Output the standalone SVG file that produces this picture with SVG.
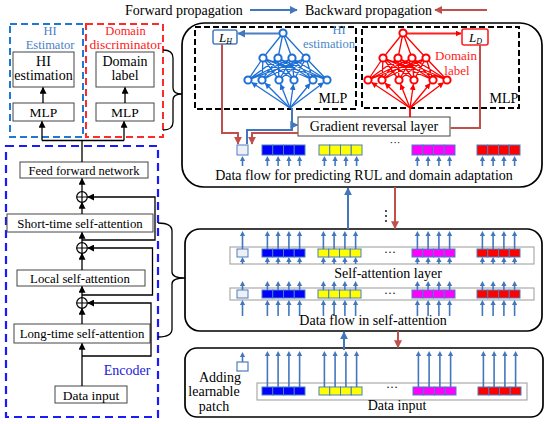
<svg xmlns="http://www.w3.org/2000/svg" xmlns:xlink="http://www.w3.org/1999/xlink" width="550" height="424" viewBox="0 0 550 424">
<defs>
<style>
.t{font-family:"Liberation Serif","Times New Roman",serif;fill:#000}
.bx{fill:#fff;stroke:#444;stroke-width:1}
.ua line{stroke:#4277bd;stroke-width:1.6}
.ua path{fill:#4277bd}
.tk rect{stroke:#4a7ec0;stroke-width:1}
.fb{fill:none;stroke:#4277bd;stroke-width:2}
.fr{fill:none;stroke:#c0504d;stroke-width:2}
.k{fill:none;stroke:#000;stroke-width:1.3}
.nl{fill:none;stroke:currentColor;stroke-width:1.3}
.nd{fill:#fff;stroke:currentColor;stroke-width:2}
.panel{fill:#fff;stroke:#000;stroke-width:1.7}
.dk{fill:none;stroke:#000;stroke-width:2;stroke-dasharray:6 3}
.bar{fill:#fff;stroke:#999;stroke-width:1}
.pt{fill:#eef0f6;stroke:#4a7ec0;stroke-width:1}
</style>
<marker id="ab" viewBox="0 0 10 10" refX="9" refY="5" markerWidth="8" markerHeight="8" markerUnits="userSpaceOnUse" orient="auto"><path d="M0,0 L10,5 L0,10 z" fill="#4277bd"/></marker>
<marker id="ar" viewBox="0 0 10 10" refX="9" refY="5" markerWidth="8" markerHeight="8" markerUnits="userSpaceOnUse" orient="auto"><path d="M0,0 L10,5 L0,10 z" fill="#c0504d"/></marker>
<marker id="ak" viewBox="0 0 10 10" refX="9" refY="5" markerWidth="7" markerHeight="7" markerUnits="userSpaceOnUse" orient="auto"><path d="M0,0 L10,5 L0,10 z" fill="#000"/></marker>
<marker id="anb" viewBox="0 0 10 10" refX="9" refY="5" markerWidth="6" markerHeight="6" markerUnits="userSpaceOnUse" orient="auto"><path d="M0,0 L10,5 L0,10 z" fill="#1f70d4"/></marker>
<marker id="anr" viewBox="0 0 10 10" refX="9" refY="5" markerWidth="6" markerHeight="6" markerUnits="userSpaceOnUse" orient="auto"><path d="M0,0 L10,5 L0,10 z" fill="#ff0000"/></marker>
<g id="u7" class="ua"><line x1="0" y1="3" x2="0" y2="7"/><path d="M-2.6,5 L0,0 L2.6,5z"/></g>
<g id="u9" class="ua"><line x1="0" y1="3" x2="0" y2="9"/><path d="M-2.6,5 L0,0 L2.6,5z"/></g>
<g id="u10" class="ua"><line x1="0" y1="3" x2="0" y2="10"/><path d="M-2.6,5 L0,0 L2.6,5z"/></g>
<g id="u16" class="ua"><line x1="0" y1="3" x2="0" y2="16"/><path d="M-2.6,5 L0,0 L2.6,5z"/></g>
<g id="u18" class="ua"><line x1="0" y1="3" x2="0" y2="18"/><path d="M-2.6,5 L0,0 L2.6,5z"/></g>
<g id="u36" class="ua"><line x1="0" y1="3" x2="0" y2="36"/><path d="M-2.6,5 L0,0 L2.6,5z"/></g>
<g id="q7"><use href="#u7" x="5.4"/><use href="#u7" x="16.1"/><use href="#u7" x="26.9"/><use href="#u7" x="37.6"/></g>
<g id="q9"><use href="#u9" x="5.4"/><use href="#u9" x="16.1"/><use href="#u9" x="26.9"/><use href="#u9" x="37.6"/></g>
<g id="q10"><use href="#u10" x="5.4"/><use href="#u10" x="16.1"/><use href="#u10" x="26.9"/><use href="#u10" x="37.6"/></g>
<g id="q16"><use href="#u16" x="5.4"/><use href="#u16" x="16.1"/><use href="#u16" x="26.9"/><use href="#u16" x="37.6"/></g>
<g id="q18"><use href="#u18" x="5.4"/><use href="#u18" x="16.1"/><use href="#u18" x="26.9"/><use href="#u18" x="37.6"/></g>
<g id="q36"><use href="#u36" x="5.4"/><use href="#u36" x="16.1"/><use href="#u36" x="26.9"/><use href="#u36" x="37.6"/></g>
<g id="t10" class="tk"><rect x="0" y="0" width="10.75" height="10"/><rect x="10.75" y="0" width="10.75" height="10"/><rect x="21.5" y="0" width="10.75" height="10"/><rect x="32.25" y="0" width="10.75" height="10"/></g>
<g id="t8" class="tk"><rect x="0" y="0" width="10.75" height="8"/><rect x="10.75" y="0" width="10.75" height="8"/><rect x="21.5" y="0" width="10.75" height="8"/><rect x="32.25" y="0" width="10.75" height="8"/></g>
<g id="net">
<path class="nl" d="M0,0L-20,25M0,0L-5,25M0,0L9,25M0,0L23,25
M-20,25L-35,47M-20,25L-21,47M-20,25L-4,47M-20,25L11,47M-20,25L30,47M-20,25L44,47
M-5,25L-35,47M-5,25L-21,47M-5,25L-4,47M-5,25L11,47M-5,25L30,47M-5,25L44,47
M9,25L-35,47M9,25L-21,47M9,25L-4,47M9,25L11,47M9,25L30,47M9,25L44,47
M23,25L-35,47M23,25L-21,47M23,25L-4,47M23,25L11,47M23,25L30,47M23,25L44,47"/>
<circle class="nd" cx="0" cy="0" r="3.6"/>
<circle class="nd" cx="-20" cy="25" r="3.6"/><circle class="nd" cx="-5" cy="25" r="3.6"/><circle class="nd" cx="9" cy="25" r="3.6"/><circle class="nd" cx="23" cy="25" r="3.6"/>
<circle class="nd" cx="-35" cy="47" r="3.6"/><circle class="nd" cx="-21" cy="47" r="3.6"/><circle class="nd" cx="-4" cy="47" r="3.6"/><circle class="nd" cx="11" cy="47" r="3.6"/><circle class="nd" cx="30" cy="47" r="3.6"/><circle class="nd" cx="44" cy="47" r="3.6"/>
</g>
<g id="oplus"><circle cx="0" cy="0" r="5.3" fill="#fff" stroke="#000" stroke-width="1.2"/><path d="M-5.3,0H5.3M0,-5.3V5.3" stroke="#000" stroke-width="1.2"/></g>
</defs>

<rect width="550" height="424" fill="#fff"/>

<g id="legend">
<text class="t" x="125" y="15" font-size="14">Forward propagation</text>
<line x1="250" y1="10" x2="297" y2="10" class="fb" marker-end="url(#ab)"/>
<text class="t" x="305" y="15" font-size="14">Backward propagation</text>
<line x1="487" y1="10" x2="435" y2="10" class="fr" marker-end="url(#ar)"/>
</g>

<g id="hi-estimator">
<rect x="10" y="24" width="73" height="113" fill="none" stroke="#1f78d4" stroke-width="2" stroke-dasharray="7 4"/>
<text class="t" x="50" y="35" font-size="12.5" text-anchor="middle" style="fill:#4a7fc7">HI</text>
<text class="t" x="50" y="49" font-size="12.5" text-anchor="middle" style="fill:#4a7fc7">Estimator</text>
<rect class="bx" x="13" y="52" width="61" height="35"/>
<text class="t" x="43.5" y="66" font-size="14" text-anchor="middle">HI</text>
<text class="t" x="43.5" y="80" font-size="14" text-anchor="middle">estimation</text>
<rect class="bx" x="13" y="103" width="61" height="18"/>
<text class="t" x="43.5" y="117" font-size="13.5" text-anchor="middle">MLP</text>
</g>
<g id="domain-discriminator">
<rect x="86" y="24" width="77" height="113" fill="none" stroke="#ff2a2a" stroke-width="2" stroke-dasharray="7 4"/>
<text class="t" x="125.5" y="35" font-size="12.5" text-anchor="middle" style="fill:#ff2020">Domain</text>
<text class="t" x="125.5" y="49" font-size="12.5" text-anchor="middle" textLength="72" lengthAdjust="spacingAndGlyphs" style="fill:#ff2020">discriminator</text>
<rect class="bx" x="96" y="52" width="58" height="35"/>
<text class="t" x="125" y="66" font-size="14" text-anchor="middle">Domain</text>
<text class="t" x="125" y="80" font-size="14" text-anchor="middle">label</text>
<rect class="bx" x="96" y="103" width="58" height="18"/>
<text class="t" x="125" y="117" font-size="13.5" text-anchor="middle">MLP</text>
</g>

<g id="encoder">
<rect x="6" y="146" width="152" height="271" fill="none" stroke="#1a1aff" stroke-width="2.2" stroke-dasharray="8 5"/>
<text class="t" x="127" y="375" font-size="14" text-anchor="middle" style="fill:#2020e0">Encoder</text>
</g>
<g id="ffn"><rect class="bx" x="20" y="162" width="128" height="16"/><text class="t" x="84" y="175" font-size="12.5" text-anchor="middle">Feed forward network</text></g>
<g id="short-att"><rect class="bx" x="7" y="214" width="146" height="18"/><text class="t" x="80" y="227.5" font-size="12.8" text-anchor="middle">Short-time self-attention</text></g>
<g id="local-att"><rect class="bx" x="17" y="270" width="128" height="16"/><text class="t" x="80" y="282.5" font-size="12.8" text-anchor="middle">Local self-attention</text></g>
<g id="long-att"><rect class="bx" x="14" y="324" width="136" height="19"/><text class="t" x="82" y="338" font-size="12.8" text-anchor="middle">Long-time self-attention</text></g>
<g id="data-input-left"><rect class="bx" x="55" y="386" width="72" height="17"/><text class="t" x="91" y="399.5" font-size="13.5" text-anchor="middle">Data input</text></g>
<g id="add1"><use href="#oplus" x="82" y="303"/></g>
<g id="add2"><use href="#oplus" x="82" y="248"/></g>
<g id="add3"><use href="#oplus" x="82" y="197"/></g>

<g id="panel-top">
<rect class="panel" x="182" y="23" width="360" height="164" rx="22"/>
<rect class="dk" x="195" y="27" width="161" height="82"/>
<rect class="dk" x="362" y="27" width="157" height="81"/>
<text class="t" x="333" y="103" font-size="14" text-anchor="middle">MLP</text>
<text class="t" x="504" y="103" font-size="14" text-anchor="middle">MLP</text>
<text class="t" x="339" y="34" font-size="12.5" text-anchor="middle" style="fill:#4a86c8">HI</text>
<text class="t" x="355" y="48" font-size="12.5" text-anchor="end" style="fill:#4a86c8">estimation</text>
<text class="t" x="456" y="60" font-size="13" text-anchor="middle" style="fill:#ff2020">Domain</text>
<text class="t" x="457" y="74.5" font-size="13" text-anchor="middle" style="fill:#ff2020">label</text>
</g>
<g id="net-hi" style="color:#1f70d4">
<use href="#net" x="283" y="33"/>
<g transform="translate(283,33)" class="nl">
<line x1="7" y1="75" x2="-31.3" y2="49.5" marker-end="url(#anb)"/>
<line x1="7" y1="75" x2="-17.8" y2="50.2" marker-end="url(#anb)"/>
<line x1="7" y1="75" x2="-2.4" y2="51.2" marker-end="url(#anb)"/>
<line x1="7" y1="75" x2="10.4" y2="51.5" marker-end="url(#anb)"/>
<line x1="7" y1="75" x2="27.1" y2="50.5" marker-end="url(#anb)"/>
<line x1="7" y1="75" x2="40.4" y2="49.7" marker-end="url(#anb)"/>
</g>
</g>
<g id="net-domain" style="color:#ff0000">
<use href="#net" x="403" y="33"/>
<g transform="translate(403,33)" class="nl">
<line x1="7" y1="75" x2="-31.3" y2="49.5" marker-end="url(#anr)"/>
<line x1="7" y1="75" x2="-17.8" y2="50.2" marker-end="url(#anr)"/>
<line x1="7" y1="75" x2="-2.4" y2="51.2" marker-end="url(#anr)"/>
<line x1="7" y1="75" x2="10.4" y2="51.5" marker-end="url(#anr)"/>
<line x1="7" y1="75" x2="27.1" y2="50.5" marker-end="url(#anr)"/>
<line x1="7" y1="75" x2="40.4" y2="49.7" marker-end="url(#anr)"/>
</g>
</g>
<g id="loss-h">
<rect x="213" y="30" width="24" height="14" rx="2" fill="#fff" stroke="#4a7fc7" stroke-width="1.6"/>
<text class="t" x="219" y="41.5" font-size="13" font-style="italic">L<tspan font-size="8" dy="2">H</tspan></text>
</g>
<g id="loss-d">
<rect x="462" y="29" width="26" height="16" rx="2" fill="#fff" stroke="#ff2020" stroke-width="1.6"/>
<text class="t" x="469" y="41.5" font-size="13" font-style="italic">L<tspan font-size="8" dy="2">D</tspan></text>
</g>
<g id="grl">
<rect class="bx" x="298" y="117" width="152" height="19"/>
<text class="t" x="374" y="131" font-size="14" text-anchor="middle">Gradient reversal layer</text>
</g>
<g id="tokens-top">
<rect class="pt" x="237" y="145" width="11" height="10"/>
<use href="#t10" x="262" y="145" fill="#0000ff"/>
<use href="#t10" x="319" y="145" fill="#ffff00"/>
<use href="#t10" x="412" y="145" fill="#ff00ff"/>
<use href="#t10" x="477" y="145" fill="#ff0000"/>
<text class="t" x="395" y="145.5" font-size="11" text-anchor="middle">···</text>
<use href="#u10" x="242.5" y="156"/>
<use href="#q10" x="262" y="156"/><use href="#q10" x="319" y="156"/><use href="#q10" x="412" y="156"/><use href="#q10" x="477" y="156"/>
<text class="t" x="364" y="180" font-size="14" text-anchor="middle">Data flow for predicting RUL and domain adaptation</text>
</g>

<g id="panel-middle">
<rect class="panel" x="185" y="229" width="357" height="102" rx="15"/>
<rect class="bar" x="230" y="247" width="304" height="17"/>
<rect class="pt" x="237" y="249" width="11" height="8"/>
<use href="#t8" x="262" y="249" fill="#0000ff"/>
<use href="#t8" x="318" y="249" fill="#ffff00"/>
<use href="#t8" x="412" y="249" fill="#ff00ff"/>
<use href="#t8" x="477" y="249" fill="#ff0000"/>
<text class="t" x="390" y="256" font-size="12" text-anchor="middle">···</text>
<use href="#u18" x="242.5" y="231"/><use href="#q18" x="262" y="231"/><use href="#q18" x="318" y="231"/><use href="#q18" x="412" y="231"/><use href="#q18" x="477" y="231"/>
<use href="#u7" x="242.5" y="257"/><use href="#q7" x="262" y="257"/><use href="#q7" x="318" y="257"/><use href="#q7" x="412" y="257"/><use href="#q7" x="477" y="257"/>
<text class="t" x="388" y="278" font-size="14" text-anchor="middle">Self-attention layer</text>
<rect class="bar" x="230" y="288" width="304" height="12"/>
<rect class="pt" x="237" y="290" width="11" height="8"/>
<use href="#t8" x="262" y="290" fill="#0000ff"/>
<use href="#t8" x="318" y="290" fill="#ffff00"/>
<use href="#t8" x="412" y="290" fill="#ff00ff"/>
<use href="#t8" x="477" y="290" fill="#ff0000"/>
<text class="t" x="390" y="297" font-size="12" text-anchor="middle">···</text>
<use href="#u9" x="242.5" y="281"/><use href="#q9" x="262" y="281"/><use href="#q9" x="318" y="281"/><use href="#q9" x="412" y="281"/><use href="#q9" x="477" y="281"/>
<use href="#u16" x="242.5" y="300"/><use href="#q16" x="262" y="300"/><use href="#q16" x="318" y="300"/><use href="#q16" x="412" y="300"/><use href="#q16" x="477" y="300"/>
<rect x="300" y="316" width="150" height="12" fill="#fff"/>
<text class="t" x="373" y="325" font-size="14" text-anchor="middle">Data flow in self-attention</text>
</g>

<g id="panel-bottom">
<rect class="panel" x="185" y="348" width="358" height="69" rx="12"/>
<rect class="bar" x="257" y="383" width="270" height="17"/>
<use href="#t8" x="262" y="387" fill="#0000ff"/>
<use href="#t8" x="319" y="387" fill="#ffff00"/>
<use href="#t8" x="413" y="387" fill="#ff00ff"/>
<use href="#t8" x="478" y="387" fill="#ff0000"/>
<text class="t" x="392" y="391" font-size="12" text-anchor="middle">···</text>
<use href="#q36" x="262" y="351"/><use href="#q36" x="319" y="351"/><use href="#q36" x="413" y="351"/><use href="#q36" x="478" y="351"/>
<rect x="237" y="362" width="11" height="9" fill="#fff" stroke="#4a7ec0" stroke-width="1.2"/>
<use href="#u10" x="242.5" y="352"/>
<text class="t" x="220" y="382" font-size="14" text-anchor="middle">Adding</text>
<text class="t" x="214" y="396" font-size="14" text-anchor="middle">learnable</text>
<text class="t" x="214" y="411" font-size="14" text-anchor="middle">patch</text>
<text class="t" x="397" y="410" font-size="14" text-anchor="middle">Data input</text>
</g>

<g id="connectors">
<line x1="43" y1="103" x2="43" y2="87.5" class="k" marker-end="url(#ak)"/>
<line x1="125" y1="103" x2="125" y2="87.5" class="k" marker-end="url(#ak)"/>
<path class="k" d="M82,162V140.5M42,140.5H124"/>
<line x1="42" y1="140.5" x2="42" y2="121.5" class="k" marker-end="url(#ak)"/>
<line x1="124" y1="140.5" x2="124" y2="121.5" class="k" marker-end="url(#ak)"/>
<line x1="82" y1="386" x2="82" y2="343.5" class="k" marker-end="url(#ak)"/>
<line x1="82" y1="324" x2="82" y2="308.5" class="k" marker-end="url(#ak)"/>
<line x1="82" y1="297.7" x2="82" y2="286.5" class="k" marker-end="url(#ak)"/>
<line x1="82" y1="270" x2="82" y2="253.5" class="k" marker-end="url(#ak)"/>
<line x1="82" y1="242.7" x2="82" y2="232.5" class="k" marker-end="url(#ak)"/>
<line x1="82" y1="214" x2="82" y2="202.5" class="k" marker-end="url(#ak)"/>
<line x1="82" y1="191.7" x2="82" y2="178.5" class="k" marker-end="url(#ak)"/>
<path class="k" d="M82,356H151V303H87.8" marker-end="url(#ak)"/>
<path class="k" d="M82,295H152.5V248H87.8" marker-end="url(#ak)"/>
<path class="k" d="M82,240H155V197H87.8" marker-end="url(#ak)"/>
<path class="k" d="M163,50Q173,50 173,58V88Q173,94 182,94Q173,94 173,100V122Q173,130 163,130"/>
<path class="k" d="M158,223Q172,223 172,231V272Q172,278 185,278Q172,278 172,284V329Q172,337 158,337"/>
<line x1="279" y1="33.5" x2="238" y2="33.5" stroke="#4a7fc7" stroke-width="2" marker-end="url(#ab)"/>
<line x1="407" y1="33.5" x2="461" y2="33.5" stroke="#ff2020" stroke-width="2" marker-end="url(#anr)"/>
<path class="fb" d="M247,144V130H292V108"/>
<line x1="292" y1="125" x2="297.5" y2="125" class="fb" marker-end="url(#ab)"/>
<line x1="410" y1="108" x2="410" y2="117" stroke="#ff0000" stroke-width="1.8"/>
<path class="fr" d="M222,44V133H238V144" marker-end="url(#ar)"/>
<path class="fr" d="M480,45V128H450.5"/>
<path class="fr" d="M298,133H252V144" marker-end="url(#ar)"/>
<line x1="348" y1="229" x2="348" y2="188" class="fb" marker-end="url(#ab)"/>
<line x1="395" y1="187" x2="395" y2="228.5" class="fr" marker-end="url(#ar)"/>
<circle cx="386" cy="211" r="0.9"/><circle cx="386" cy="216" r="0.9"/><circle cx="386" cy="221" r="0.9"/>
<line x1="344" y1="350" x2="344" y2="332" class="fb" marker-end="url(#ab)"/>
<line x1="398" y1="331" x2="398" y2="347.5" class="fr" marker-end="url(#ar)"/>
</g>
</svg>
